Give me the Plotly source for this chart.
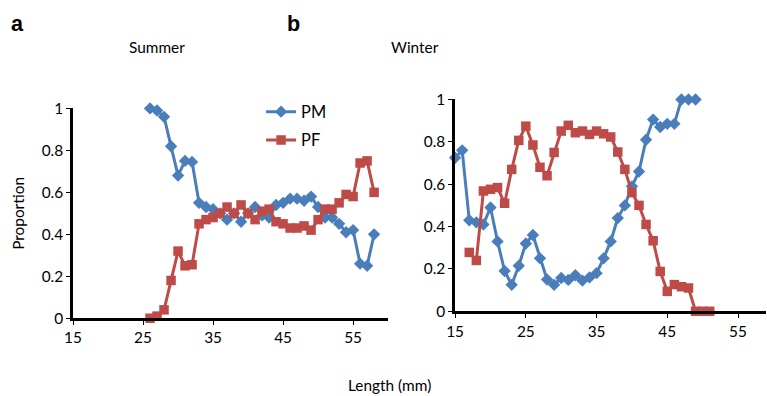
import plotly.graph_objects as go

# Summer (panel a)
summer_len = list(range(26, 59))
summer_pm = [1.0, 0.99, 0.96, 0.82, 0.68, 0.75, 0.745, 0.55, 0.53, 0.52, 0.50, 0.47, 0.50, 0.46,
             0.50, 0.53, 0.49, 0.48, 0.54, 0.55, 0.57, 0.57, 0.56, 0.58, 0.53, 0.48, 0.48, 0.45,
             0.41, 0.42, 0.26, 0.25, 0.40]
summer_pf = [0.0, 0.01, 0.04, 0.18, 0.32, 0.25, 0.255, 0.45, 0.47, 0.48, 0.50, 0.53, 0.50, 0.54,
             0.50, 0.47, 0.51, 0.52, 0.46, 0.45, 0.43, 0.43, 0.44, 0.42, 0.47, 0.52, 0.52, 0.55,
             0.59, 0.58, 0.74, 0.75, 0.60]

# Winter (panel b)
winter_pm_len = list(range(15, 50))
winter_pm = [0.725, 0.76, 0.43, 0.42, 0.41, 0.49, 0.33, 0.19, 0.125, 0.215, 0.32, 0.36, 0.25,
             0.15, 0.125, 0.157, 0.148, 0.17, 0.145, 0.16, 0.18, 0.25, 0.33, 0.44, 0.50, 0.59,
             0.66, 0.81, 0.905, 0.87, 0.885, 0.885, 1.0, 1.0, 1.0]
winter_pf_len = list(range(17, 52))
winter_pf = [0.278, 0.24, 0.568, 0.576, 0.584, 0.51, 0.67, 0.807, 0.874, 0.785, 0.68, 0.64,
             0.75, 0.851, 0.878, 0.843, 0.851, 0.835, 0.851, 0.838, 0.823, 0.752, 0.67, 0.56,
             0.50, 0.41, 0.333, 0.188, 0.094, 0.126, 0.116, 0.11, 0.0, 0.0, 0.0]

x_ticks = [15, 25, 35, 45, 55]
y_ticks = [0, 0.2, 0.4, 0.6, 0.8, 1]
y_ticktext = ["0", "0.2", "0.4", "0.6", "0.8", "1"]

BLUE = "#4a7ebb"
RED = "#be4b48"
FONT = "Lato"
W, H = 767, 396

# the photographed page shows the figure with an 8px offset and slightly shrunk;
# layout positions below are given in target-picture pixels and mapped back
OFF, SX, SY = 8, 0.988, 0.96


def px(x):
    return min(1.0, max(0.0, (x - OFF) / SX / W))


def py(y):
    return min(1.0, max(0.0, 1 - (y - OFF) / SY / H))


def fs(size):
    return round(size / ((SX + SY) / 2), 1)


fig = go.Figure()


def add_pair(xa, ya, pm_x, pm_y, pf_x, pf_y, show):
    fig.add_trace(go.Scatter(x=pm_x, y=pm_y, name="PM", mode="lines+markers",
                             line=dict(color=BLUE, width=3),
                             marker=dict(symbol="diamond", size=9.5, color=BLUE),
                             xaxis=xa, yaxis=ya, showlegend=show, legendgroup="pm",
                             cliponaxis=False))
    fig.add_trace(go.Scatter(x=pf_x, y=pf_y, name="PF", mode="lines+markers",
                             line=dict(color=RED, width=3),
                             marker=dict(symbol="square", size=9.5, color=RED),
                             xaxis=xa, yaxis=ya, showlegend=show, legendgroup="pf",
                             cliponaxis=False))


add_pair("x", "y", summer_len, summer_pm, summer_len, summer_pf, True)
add_pair("x2", "y2", winter_pm_len, winter_pm, winter_pf_len, winter_pf, False)

axis_common = dict(showgrid=False, zeroline=False, showline=True, linecolor="black",
                   linewidth=2.5, ticks="outside", ticklen=4, tickwidth=1, tickcolor="black",
                   tickfont=dict(family=FONT, size=fs(15), color="black"))

right_end = px(765)
right_max = 15 + ((right_end * W * SX + OFF) - 454) / 7.07

fig.update_layout(
    width=W, height=H,
    margin=dict(l=0, r=0, t=0, b=0),
    paper_bgcolor="white", plot_bgcolor="white",
    xaxis=dict(domain=[px(72), px(387)], range=[15, 60], tickvals=x_ticks,
               anchor="y", **axis_common),
    yaxis=dict(domain=[py(318), py(107)], range=[0, 1], tickvals=y_ticks,
               ticktext=y_ticktext, anchor="x", **axis_common),
    xaxis2=dict(domain=[px(454), right_end], range=[15, right_max], tickvals=x_ticks,
                anchor="y2", **axis_common),
    yaxis2=dict(domain=[py(311), py(98)], range=[0, 1], tickvals=y_ticks,
                ticktext=y_ticktext, anchor="x2", **axis_common),
    legend=dict(x=px(260), y=py(93), xanchor="left", yanchor="top",
                font=dict(family=FONT, size=fs(16), color="black"),
                bgcolor="rgba(0,0,0,0)", tracegroupgap=4, itemwidth=30),
    font=dict(family=FONT, color="black"),
)

annotations = [
    dict(text="<b>a</b>", x=px(8), y=py(22), font=dict(family="Liberation Sans", size=fs(21), color="black"),
         xanchor="left", yanchor="middle"),
    dict(text="<b>b</b>", x=px(284), y=py(22), font=dict(family="Liberation Sans", size=fs(21), color="black"),
         xanchor="left", yanchor="middle"),
    dict(text="Summer", x=px(156), y=py(45), font=dict(family=FONT, size=fs(15), color="black"),
         xanchor="center", yanchor="middle"),
    dict(text="Winter", x=px(414), y=py(45), font=dict(family=FONT, size=fs(15), color="black"),
         xanchor="center", yanchor="middle"),
    dict(text="Proportion", x=px(17), y=py(213), textangle=-90,
         font=dict(family=FONT, size=fs(15), color="black"), xanchor="center", yanchor="middle"),
    dict(text="Length (mm)", x=px(388), y=py(385),
         font=dict(family=FONT, size=fs(15), color="black"), xanchor="center", yanchor="middle"),
]
for a in annotations:
    a.update(xref="paper", yref="paper", showarrow=False)
fig.update_layout(annotations=annotations)

fig.write_html("out.html")
